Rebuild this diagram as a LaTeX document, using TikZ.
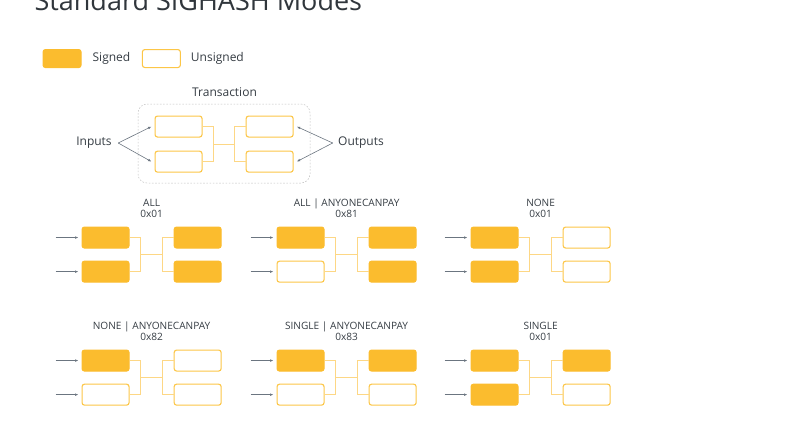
\documentclass[tikz,border=0pt]{standalone}
\usepackage{fontspec}
\setmainfont{Open Sans}
\usetikzlibrary{arrows.meta,positioning}

\definecolor{gold}{HTML}{FBBC2E}
\definecolor{goldline}{HTML}{FCC647}
\definecolor{linkline}{HTML}{FDD785}
\definecolor{ink}{HTML}{353C43}
\definecolor{arrowgray}{HTML}{6B7580}

\begin{document}
\begin{tikzpicture}[
		x=1pt, y=-1pt,
		every node/.style={text=ink},
		cell/.style={draw=goldline, line width=1.1pt, rounded corners=2.5pt, minimum width=47pt, minimum height=21pt, inner sep=0pt},
		signed/.style={cell, fill=gold, draw=gold},
		unsigned/.style={cell, fill=white},
		link/.style={draw=linkline, line width=0.9pt},
		feed/.style={draw=arrowgray, line width=0.6pt, -{Latex[length=3.5pt,width=2.6pt]}},
		label/.style={font=\fontsize{12}{14}\selectfont},
		tag/.style={font=\fontsize{10.1}{11}\selectfont, align=center, inner sep=1pt},
	]
		\useasboundingbox (0,0) rectangle (800,445);
		\node (title) [anchor=base west, font=\fontsize{27}{32}\selectfont, text=ink!90!black] at (31,10) {Standard SIGHASH Modes};

		% legend
		\node (keys) [signed, anchor=north west, minimum width=38pt, minimum height=18pt] at (42.5,49) {};
		\node (keyst) [label, right=7.5pt of keys] {Signed};
		\node (keyu) [unsigned, right=8pt of keyst, minimum width=38pt, minimum height=18pt] {};
		\node (keyut) [label, right=6.5pt of keyu] {Unsigned};

		% transaction overview
		\node (tin1) [unsigned, anchor=north west] at (154.5,115.5) {};
		\node (tin2) [unsigned, below=13pt of tin1] {};
		\node (tout1) [unsigned, right=43pt of tin1] {};
		\node (tout2) [unsigned, right=43pt of tin2] {};
		\draw[link] (tin1.east) -- ++(11,0) coordinate (tja) |- (tin2.east);
		\draw[link] (tout1.west) -- ++(-11,0) coordinate (tjb) |- (tout2.west);
		\path (tin1) -- (tin2) coordinate[pos=0.5] (tmid);
		\draw[link] (tja|-tmid) -- (tjb|-tmid);

		\draw[dashed, dash pattern=on 1.6pt off 1.6pt, draw=black!25, line width=0.5pt, rounded corners=9pt] (138,104) rectangle (310,183);
		\node (tx) [label] at (224.5,92) {Transaction};
		\node (inputs) [label] at (94,143) {Inputs};
		\node (outputs) [label] at (361,143) {Outputs};
		\draw[feed] (inputs.east) ++(3,0) coordinate (ia) -- ([xshift=-3pt]tin1.west);
		\draw[feed] (ia) -- ([xshift=-3pt]tin2.west);
		\draw[feed] (outputs.west) ++(-2,0) coordinate (oa) -- ([xshift=3pt]tout1.east);
		\draw[feed] (oa) -- ([xshift=3pt]tout2.east);

		% the six modes
		\foreach \n/\px/\py/\name/\code/\sa/\sb/\sc/\sd in {
				1/81/226/{ALL}/0x01/signed/signed/signed/signed,
				2/276/226/{ALL | ANYONECANPAY}/0x81/signed/unsigned/signed/signed,
				3/470/226/{NONE}/0x01/signed/signed/unsigned/unsigned,
				4/81/349/{NONE | ANYONECANPAY}/0x82/signed/unsigned/unsigned/unsigned,
				5/276/349/{SINGLE | ANYONECANPAY}/0x83/signed/unsigned/signed/unsigned,
				6/470/349/{SINGLE}/0x01/signed/signed/signed/unsigned} {
			\node (m\n-in1) [\sa, anchor=north west] at (\px+0.5,\py+0.5) {};
			\node (m\n-in2) [\sb, below=12pt of m\n-in1] {};
			\node (m\n-out1) [\sc, right=44pt of m\n-in1] {};
			\node (m\n-out2) [\sd, right=44pt of m\n-in2] {};
			\draw[link] (m\n-in1.east) -- ++(11,0) coordinate (m\n-ja) |- (m\n-in2.east);
			\draw[link] (m\n-out1.west) -- ++(-11,0) coordinate (m\n-jb) |- (m\n-out2.west);
			\path (m\n-in1) -- (m\n-in2) coordinate[pos=0.5] (m\n-mid);
			\draw[link] (m\n-ja|-m\n-mid) -- (m\n-jb|-m\n-mid);
			\path (m\n-in1.north west) -- (m\n-out1.north east) coordinate[pos=0.5] (m\n-top);
			\node (m\n-tag) [tag, anchor=south] at ([yshift=8pt]m\n-top) {\name\\\code};
			\coordinate (m\n-f1) at ([xshift=-26pt]m\n-in1.west);
			\coordinate (m\n-f2) at ([xshift=-26pt]m\n-in2.west);
			\draw[feed] (m\n-f1) -- ([xshift=-3pt]m\n-in1.west);
			\draw[feed] (m\n-f2) -- ([xshift=-3pt]m\n-in2.west);
		}
	\end{tikzpicture}
\end{document}
